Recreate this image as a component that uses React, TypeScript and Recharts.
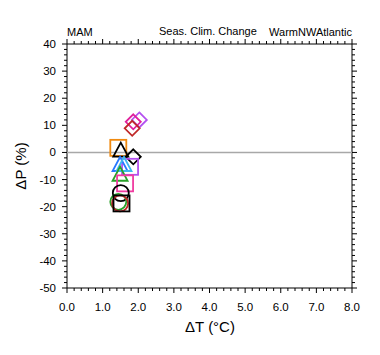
import React from 'react';
import { ReferenceArea, ReferenceLine, Scatter, ScatterChart, XAxis, YAxis } from 'recharts';

// model points
const deltaT = [2.03, 1.86, 1.83, 1.44, 1.51, 1.86, 1.77, 1.49, 1.6, 1.49, 1.63, 1.51, 1.44, 1.49, 1.53];
const deltaP = [12.0, 11.3, 8.9, 1.7, 0.3, -1.6, -5.3, -5.0, -5.0, -8.6, -11.4, -15.0, -18.2, -18.8, -18.8];
const markerKind = ['diamond', 'diamond', 'diamond', 'square', 'triangle', 'diamond', 'square', 'triangle', 'triangle', 'triangle', 'square', 'circle', 'circle', 'circle', 'square'];
const markerColor = ['#b450f0', '#e0209c', '#c02828', '#f08a10', '#000000', '#000000', '#b450f0', '#2878ff', '#40b8f0', '#28a028', '#f03ca0', '#000000', '#28a028', '#c02828', '#000000'];

const xTicks = Array.from({ length: 41 }, (_, i) => Math.round(i * 2) / 10);
const yTicks = Array.from({ length: 46 }, (_, i) => -50 + i * 2);
const xTickLabels = ['0.0', '1.0', '2.0', '3.0', '4.0', '5.0', '6.0', '7.0', '8.0'];

const LEFT = 67;
const RIGHT = 352;
const TOP = 44;
const BOTTOM = 288;
const FONT = '"Liberation Sans", Arial, Helvetica, sans-serif';

const points = deltaT.map((t, i) => ({ t, p: deltaP[i], kind: markerKind[i], color: markerColor[i] }));

const XTick = (props: any) => {
  const { payload } = props;
  const cx = payload.coordinate;
  const v = payload.value;
  const major = Math.abs(v - Math.round(v)) < 1e-6;
  const len = major ? 5 : 3;
  return (
    <g>
      <line x1={cx} x2={cx} y1={BOTTOM} y2={BOTTOM + len} stroke='#000' />
      <line x1={cx} x2={cx} y1={TOP} y2={TOP - len} stroke='#000' />
      {major && (
        <text x={cx} y={311} textAnchor='middle' fontSize={11.5} fontFamily={FONT} fill='#000'>
          {xTickLabels[Math.round(v)]}
        </text>
      )}
    </g>
  );
};

const YTick = (props: any) => {
  const { payload } = props;
  const cy = payload.coordinate;
  const v = payload.value;
  const major = v % 10 === 0;
  const len = major ? 5 : 3;
  return (
    <g>
      <line x1={LEFT} x2={LEFT - len} y1={cy} y2={cy} stroke='#000' />
      <line x1={RIGHT} x2={RIGHT + len} y1={cy} y2={cy} stroke='#000' />
      {major && (
        <text x={56} y={cy + 4} textAnchor='end' fontSize={11.5} fontFamily={FONT} fill='#000'>
          {v}
        </text>
      )}
    </g>
  );
};

const Marker = (props: any) => {
  const { cx, cy, payload } = props;
  const c = payload.color;
  const sw = 1.8;
  if (payload.kind === 'square') {
    return <rect x={cx - 8} y={cy - 8} width={16} height={16} fill='none' stroke={c} strokeWidth={sw} />;
  }
  if (payload.kind === 'diamond') {
    const r = 7.5;
    return (
      <polygon
        points={`${cx},${cy - r} ${cx + r},${cy} ${cx},${cy + r} ${cx - r},${cy}`}
        fill='none'
        stroke={c}
        strokeWidth={sw}
      />
    );
  }
  if (payload.kind === 'triangle') {
    return (
      <polygon
        points={`${cx},${cy - 9} ${cx + 7.5},${cy + 5} ${cx - 7.5},${cy + 5}`}
        fill='none'
        stroke={c}
        strokeWidth={sw}
      />
    );
  }
  return <circle cx={cx} cy={cy} r={8} fill='none' stroke={c} strokeWidth={sw} />;
};

const textStyle: React.CSSProperties = {
  position: 'absolute',
  fontFamily: FONT,
  color: '#000',
  whiteSpace: 'nowrap',
  lineHeight: 1,
};

export default function App() {
  return (
    <div style={{ position: 'absolute', left: 0, top: 0, width: 380, height: 355, background: '#fff' }}>
      <ScatterChart width={380} height={355} margin={{ top: TOP, right: 380 - RIGHT, left: LEFT - 30, bottom: 355 - BOTTOM - 30 }}>
        <XAxis
          type='number'
          dataKey='t'
          domain={[0, 8]}
          ticks={xTicks}
          interval={0}
          axisLine={false}
          tickLine={false}
          tick={XTick}
          height={30}
          allowDecimals
        />
        <YAxis
          type='number'
          dataKey='p'
          domain={[-50, 40]}
          ticks={yTicks}
          interval={0}
          axisLine={false}
          tickLine={false}
          tick={YTick}
          width={30}
        />
        <ReferenceArea x1={0} x2={8} y1={-50} y2={40} fill='none' stroke='#000' strokeWidth={1} fillOpacity={0} />
        <ReferenceLine y={0} stroke='#a8a8a8' strokeWidth={1.5} />
        <Scatter data={points} shape={Marker} isAnimationActive={false} />
      </ScatterChart>
      <div style={{ ...textStyle, left: 67, top: 27, fontSize: 11 }}>MAM</div>
      <div style={{ ...textStyle, left: 159, top: 26, fontSize: 11 }}>Seas. Clim. Change</div>
      <div style={{ ...textStyle, right: 380 - RIGHT, top: 27, fontSize: 11 }}>WarmNWAtlantic</div>
      <div style={{ ...textStyle, left: 210, top: 326, fontSize: 15, transform: 'translate(-50%, -50%)' }}>ΔT (°C)</div>
      <div
        style={{ ...textStyle, left: 20, top: 166, fontSize: 15, transform: 'translate(-50%, -50%) rotate(-90deg)' }}
      >
        ΔP (%)
      </div>
    </div>
  );
}
